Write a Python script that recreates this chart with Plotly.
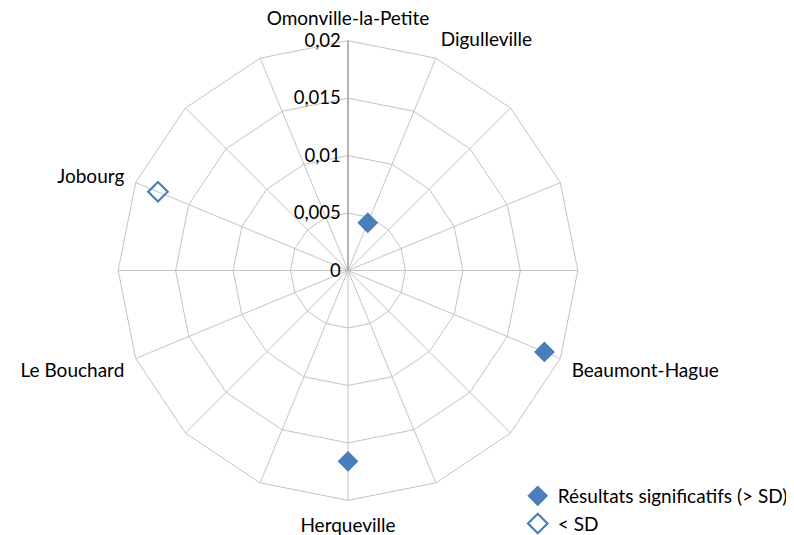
import plotly.graph_objects as go

# 16 spokes of the radar; blank names are unlabeled spokes
spoke_names = ["Omonville-la-Petite", "Digulleville", "", "", "", "Beaumont-Hague", "", "",
               "Herqueville", "", "", "Le Bouchard", "", "Jobourg", "", ""]
# unique keys for the category axis (blank spokes become distinct whitespace strings)
spoke_keys = [n if n else " " * (i + 1) for i, n in enumerate(spoke_names)]

sig_communes = ["Digulleville", "Beaumont-Hague", "Herqueville"]
sig_values = [0.0045, 0.0185, 0.0166]

nonsig_communes = ["Jobourg"]
nonsig_values = [0.0179]

radial_ticks = [0, 0.005, 0.01, 0.015, 0.02]
radial_ticktext = ["0", "0,005", "0,01", "0,015", "0,02"]

blue = "#4A7EBB"
font = "Lato"

cx, cy, R = 340, 265, 232

fig = go.Figure()
fig.add_trace(go.Scatterpolar(
    r=sig_values, theta=sig_communes, mode="markers",
    name="Résultats significatifs (> SD)",
    marker=dict(symbol="diamond", size=16, color=blue, line=dict(width=0)),
))
fig.add_trace(go.Scatterpolar(
    r=nonsig_values, theta=nonsig_communes, mode="markers",
    name="< SD",
    marker=dict(symbol="diamond-open", size=15, color=blue, line=dict(width=2.2, color=blue)),
))

fig.update_layout(
    width=794, height=535,
    margin=dict(l=0, r=0, t=0, b=0),
    paper_bgcolor="white",
    font=dict(family=font, size=19, color="#000000"),
    showlegend=True,
    legend=dict(x=0.642, y=0.115, xanchor="left", yanchor="top",
                font=dict(size=19), bgcolor="rgba(0,0,0,0)", itemwidth=30),
    polar=dict(
        domain=dict(x=[(cx - R) / 794, (cx + R) / 794],
                    y=[(535 - cy - R) / 535, (535 - cy + R) / 535]),
        bgcolor="white",
        gridshape="linear",
        angularaxis=dict(
            type="category",
            categoryorder="array", categoryarray=spoke_keys,
            direction="clockwise", rotation=90,
            showgrid=True, gridcolor="#C4C4C4", gridwidth=1,
            showline=True, linecolor="#C4C4C4", linewidth=1,
            ticks="outside", ticklen=8, tickcolor="rgba(0,0,0,0)",
            tickfont=dict(size=19),
        ),
        radialaxis=dict(
            range=[0, 0.02], tickmode="array",
            tickvals=radial_ticks, ticktext=radial_ticktext,
            angle=90, side="counterclockwise",
            showgrid=True, gridcolor="#C4C4C4", gridwidth=1,
            showline=True, linecolor="#A6A6A6", linewidth=1.5,
            ticks="", tickfont=dict(size=18.5), tickangle=90,
        ),
    ),
)

fig.write_html("out.html")
